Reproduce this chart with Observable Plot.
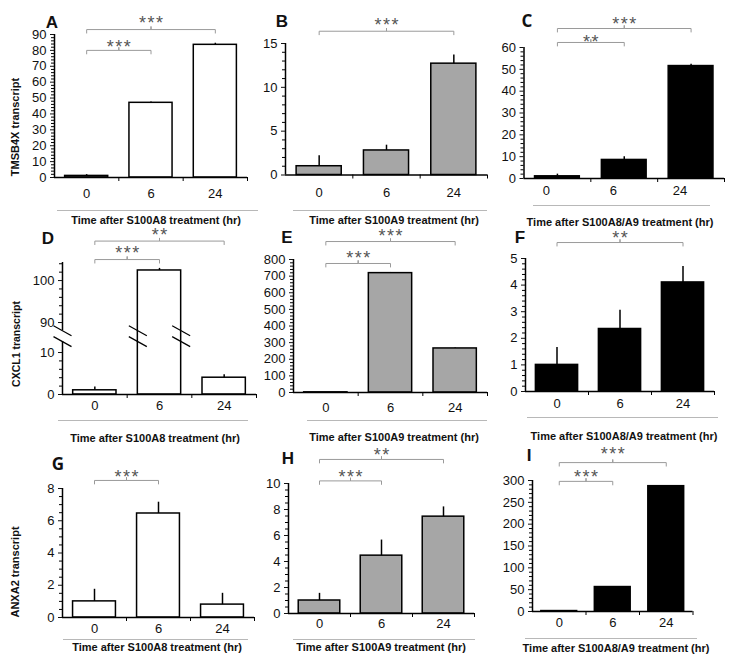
<!DOCTYPE html>
<html>
<head>
<meta charset="utf-8">
<script src="https://cdn.jsdelivr.net/npm/d3@7"></script>
<script src="https://cdn.jsdelivr.net/npm/@observablehq/plot@0.6"></script>
<style>
  body { margin: 0; background: #fff; }
  #fig { position: relative; width: 729px; height: 658px; overflow: hidden; background: #fff;
         font-family: "Liberation Sans", Arial, sans-serif; color: #111; }
  .abs { position: absolute; white-space: nowrap; line-height: 1; }
  .sep { position: absolute; height: 1px; background: #b8b8b8; }
</style>
</head>
<body>
<div id="fig"></div>
<script>
// ---------------- data ----------------
const times = ["0", "6", "24"];

// TMSB4X transcript
const tmsb4xA8 = [1.0, 47.0, 83.5];
const tmsb4xA8Err = [0.8, 0.5, 1.0];
const tmsb4xA9 = [1.0, 2.8, 12.7];
const tmsb4xA9Err = [1.2, 0.6, 1.0];
const tmsb4xA8A9 = [1.0, 8.5, 51.5];
const tmsb4xA8A9Err = [1.0, 1.5, 0.8];

// CXCL1 transcript
const cxcl1A8 = [1.0, 102.4, 4.0];
const cxcl1A8Err = [0.8, 0.5, 0.7];
const cxcl1A9 = [1.0, 718, 265];
const cxcl1A9Err = [0.3, 4, 3];
const cxcl1A8A9 = [1.0, 2.35, 4.1];
const cxcl1A8A9Err = [0.65, 0.7, 0.6];

// ANXA2 transcript
const anxa2A8 = [1.0, 6.45, 0.8];
const anxa2A8Err = [0.75, 0.7, 0.7];
const anxa2A9 = [1.0, 4.45, 7.45];
const anxa2A9Err = [0.55, 1.2, 0.75];
const anxa2A8A9 = [1.0, 56, 287];
const anxa2A8A9Err = [0.5, 1, 1];

// significance brackets
const sigA = [{from: "0", to: "24", label: "***"}, {from: "0", to: "6", label: "***"}];
const sigB = [{from: "0", to: "24", label: "***"}];
const sigC = [{from: "0", to: "24", label: "***"}, {from: "0", to: "6", label: "**"}];
const sigD = [{from: "0", to: "24", label: "**"}, {from: "0", to: "6", label: "***"}];
const sigE = [{from: "0", to: "24", label: "***"}, {from: "0", to: "6", label: "***"}];
const sigF = [{from: "0", to: "24", label: "**"}];
const sigG = [{from: "0", to: "6", label: "***"}];
const sigH = [{from: "0", to: "24", label: "**"}, {from: "0", to: "6", label: "***"}];
const sigI = [{from: "0", to: "24", label: "***"}, {from: "0", to: "6", label: "***"}];

const panelLetters = ["A", "B", "C", "D", "E", "F", "G", "H", "I"];
const geneLabels = ["TMSB4X  transcript", "CXCL1 transcript", "ANXA2 transcript"];
const treatmentLabels = ["Time after S100A8 treatment (hr)", "Time after S100A9 treatment (hr)", "Time after S100A8/A9 treatment (hr)"];
const columnFill = ["#ffffff", "#a6a6a6", "#000000"];

// broken axis for panel D (0–10 and 90–104)
const BREAK_LO = 10, BREAK_HI = 90, BREAK_GAP = 30 / 4.2;
const brk = v => v <= BREAK_LO ? v : v - BREAK_HI + BREAK_LO + BREAK_GAP;
const unbrk = d => d <= BREAK_LO ? d : d - BREAK_LO - BREAK_GAP + BREAK_HI;

// ---------------- layout ----------------
const panels = [
  {values: tmsb4xA8, err: tmsb4xA8Err, col: 0, sig: sigA, axis: {max: 90, major: 10, minor: 2},
   L: {axisX: 54, xEnd: 247, yTop: 34, y0: 177, labelGap: 16, labelDx: 0, levels: [[93.1, 100], [80, 85]]}},
  {values: tmsb4xA9, err: tmsb4xA9Err, col: 1, sig: sigB, axis: {max: 15, major: 5, minor: 1},
   L: {axisX: 285, xEnd: 487, yTop: 43, y0: 174.5, labelGap: 17.5, labelDx: 0, levels: [[16.4, 17.6]]}},
  {values: tmsb4xA8A9, err: tmsb4xA8A9Err, col: 2, sig: sigC, axis: {max: 60, major: 10, minor: 2},
   L: {axisX: 523.5, xEnd: 724, yTop: 47, y0: 178, labelGap: 12, labelDx: -11, levels: [[68.7, 72.8], [62.3, 64.6]]}},
  {values: cxcl1A8, err: cxcl1A8Err, col: 0, sig: sigD, broken: true,
   axis: {max: 104.3, majorVals: [0, 10, 90, 100], minorVals: [2, 4, 6, 8, 92, 94, 96, 98, 102, 104]},
   L: {axisX: 62, xEnd: 256, yTop: 262, y0: 394, labelGap: 11, labelDx: 0, levels: [[109.4, 111.8], [105, 107.6]]}},
  {values: cxcl1A9, err: cxcl1A9Err, col: 1, sig: sigE, axis: {max: 800, major: 100, minor: 20},
   L: {axisX: 293, xEnd: 487, yTop: 259, y0: 392, labelGap: 14.5, labelDx: 0, levels: [[908, 968], [776, 836]]}},
  {values: cxcl1A8A9, err: cxcl1A8A9Err, col: 2, sig: sigF, axis: {max: 5, major: 1, minor: 0.2},
   L: {axisX: 525, xEnd: 714, yTop: 258, y0: 391, labelGap: 12, labelDx: 0, levels: [[5.6, 5.94]]}},
  {values: anxa2A8, err: anxa2A8Err, col: 0, sig: sigG, axis: {max: 8, major: 2, minor: 0.5},
   L: {axisX: 62, xEnd: 254, yTop: 488, y0: 617, labelGap: 11, labelDx: 0, levels: [[8.5, 9.0]]}},
  {values: anxa2A9, err: anxa2A9Err, col: 1, sig: sigH, axis: {max: 10, major: 2, minor: 0.5},
   L: {axisX: 288, xEnd: 474, yTop: 483, y0: 613, labelGap: 10, labelDx: 0, levels: [[11.85, 12.5], [10.2, 10.85]]}},
  {values: anxa2A8A9, err: anxa2A8A9Err, col: 2, sig: sigI, axis: {max: 300, major: 50, minor: 10},
   L: {axisX: 532, xEnd: 692.5, yTop: 480, y0: 611, labelGap: 10.5, labelDx: 0, levels: [[341, 371], [298, 318]]}}
];

const letterPos = [[52, 22], [282, 21], [527, 20], [48, 238], [287, 237], [520, 237], [58, 463], [288, 458], [529, 455]];
const geneLabelPos = [{x: 15, y: 127, size: 11, weight: "bold"}, {x: 16, y: 344, size: 10.5, weight: "bold"}, {x: 15, y: 572, size: 11, weight: "bold"}];
const titlePos = [[156, 220], [394, 220], [620, 222], [155, 438], [394, 437], [624, 436], [157, 647], [381, 647], [616, 648]];
const sepPos = [[57, 258, 209.5], [293, 487, 209.5], [533, 710, 205], [58, 248, 420], [307, 487, 420], [527, 718, 417], [63, 248, 639], [293, 475, 639], [525, 697, 638]];

const fig = document.getElementById("fig");

function drawPanel(p) {
  const L = p.L;
  const T = p.broken ? brk : (v => v);
  const topD = T(p.axis.max);
  const left = Math.floor(L.axisX - 44), top = Math.floor(L.yTop - 50);
  const width = Math.ceil(L.xEnd + 6 - left), height = Math.ceil(L.y0 + 30 - top);
  const mL = L.axisX - left, mR = width - (L.xEnd - left);
  const mT = L.yTop - top, mB = height - (L.y0 - top);
  const pxY = (L.y0 - L.yTop) / topD;
  const pxX = (L.xEnd - L.axisX) / times.length;
  const bw = 0.67;

  const rows = times.map((t, i) => ({i, t, v: p.values[i], e: p.values[i] + p.err[i]}));

  let majorVals, minorVals;
  if (p.axis.majorVals) {
    majorVals = p.axis.majorVals; minorVals = p.axis.minorVals;
  } else {
    majorVals = d3.range(0, p.axis.max + 1e-9, p.axis.major);
    minorVals = d3.range(0, p.axis.max + 1e-9, p.axis.minor)
      .filter(v => Math.abs(v / p.axis.major - Math.round(v / p.axis.major)) > 1e-6);
  }
  const majorD = majorVals.map(T), minorD = minorVals.map(T);
  function unbrkIf(d) { return p.broken ? Math.round(unbrk(d)) : d; }
  const fmt = d => String(+unbrkIf(d).toFixed(4));

  // y-axis line segments
  let segs = [[0, topD]];
  const breakRows = [];
  if (p.broken) {
    const c1 = 12.6, c2 = 15.2;
    segs = [[0, c1], [c2, topD]];
    for (const x of [-0.5, 1 - bw / 2, 1 + bw / 2]) for (const c of [c1, c2]) breakRows.push({x, c});
  }

  // brackets
  const k = 3.5 / pxY;
  const bracketPts = [];
  const starRows = [];
  p.sig.forEach((s, j) => {
    const x1 = times.indexOf(s.from), x2 = times.indexOf(s.to), mid = (x1 + x2) / 2;
    const lvl = T(L.levels[j][0]);
    [[x1, lvl - k], [x1, lvl], [mid, lvl], [mid, lvl + k * 0.9], [mid, lvl], [x2, lvl], [x2, lvl - k]]
      .forEach(([x, y]) => bracketPts.push({x, y, z: j}));
    starRows.push({x: mid, y: T(L.levels[j][1]), label: s.label.split("").join("\u200A")});
  });

  const chart = Plot.plot({
    width, height, marginLeft: mL, marginRight: mR, marginTop: mT, marginBottom: mB,
    x: {domain: [-0.5, times.length - 0.5]},
    y: {domain: [0, topD]},
    style: {background: "transparent", overflow: "visible", fontFamily: '"Liberation Sans", Arial, sans-serif',
            fontSize: "13px", color: "#111", position: "absolute", left: left + "px", top: top + "px", maxWidth: "none"},
    marks: [
      Plot.rect(rows, {x1: d => d.i - bw / 2, x2: d => d.i + bw / 2, y1: () => 0, y2: d => T(d.v),
        fill: columnFill[p.col], stroke: "#000", strokeWidth: 1.5}),
      Plot.ruleX(rows, {x: d => d.i, y1: d => T(d.v), y2: d => T(d.e), stroke: "#000", strokeWidth: 1.5}),
      Plot.ruleY([0], {y: () => 0, stroke: "#000", strokeWidth: 1.5}),
      Plot.ruleX(segs, {x: () => -0.5, y1: d => d[0], y2: d => d[1], stroke: "#000", strokeWidth: 1.5}),
      Plot.ruleX([0.5, 1.5, 2.5], {x: d => d, y1: () => 0, y2: () => -4 / pxY, stroke: "#000", strokeWidth: 1}),
      Plot.ruleY(minorD, {y: d => d, x1: () => -0.5 - 3 / pxX, x2: () => -0.5, stroke: "#000", strokeWidth: 1}),
      Plot.axisY(majorD, {tickSize: 4, tickPadding: 4, tickFormat: fmt, fontSize: 13, label: null, strokeWidth: 1}),
      Plot.axisX([0, 1, 2], {tickSize: 0, tickPadding: L.labelGap - 4.7, tickFormat: i => times[i],
        fontSize: 13, label: null, dx: L.labelDx}),
      Plot.link(breakRows, {x1: d => d.x - 9 / pxX, x2: d => d.x + 9 / pxX, y1: d => d.c + 5 / pxY, y2: d => d.c - 5 / pxY,
        stroke: "#000", strokeWidth: 1.2}),
      Plot.line(bracketPts, {x: "x", y: "y", z: "z", stroke: "#9a9a9a", strokeWidth: 1}),
      Plot.text(starRows, {x: "x", y: "y", text: "label", fontSize: 18, fill: "#555", dy: 4.6, lineAnchor: "middle"})
    ]
  });
  fig.appendChild(chart);
}

panels.forEach(drawPanel);

function addText(txt, cx, cy, opts) {
  const el = document.createElement("div");
  el.className = "abs";
  el.textContent = txt;
  el.style.left = cx + "px";
  el.style.top = cy + "px";
  el.style.fontSize = opts.size + "px";
  el.style.fontWeight = opts.weight || "bold";
  if (opts.family) el.style.fontFamily = opts.family;
  el.style.transform = "translate(-50%,-50%)" + (opts.rotate ? " rotate(-90deg)" : "");
  fig.appendChild(el);
}

sepPos.forEach(([x1, x2, y]) => {
  const el = document.createElement("div");
  el.className = "sep";
  el.style.left = x1 + "px"; el.style.width = (x2 - x1) + "px"; el.style.top = y + "px";
  fig.appendChild(el);
});

titlePos.forEach(([x, y], i) => addText(treatmentLabels[i % 3], x, y, {size: 11, weight: "bold"}));
letterPos.forEach(([x, y], i) => addText(panelLetters[i], x, y, {size: 17, weight: "bold",
  family: (i === 2 || i === 6) ? '"Open Sans", sans-serif' : undefined}));
geneLabelPos.forEach((g, i) => addText(geneLabels[i], g.x, g.y, {size: g.size, weight: g.weight, rotate: true}));
</script>
</body>
</html>
